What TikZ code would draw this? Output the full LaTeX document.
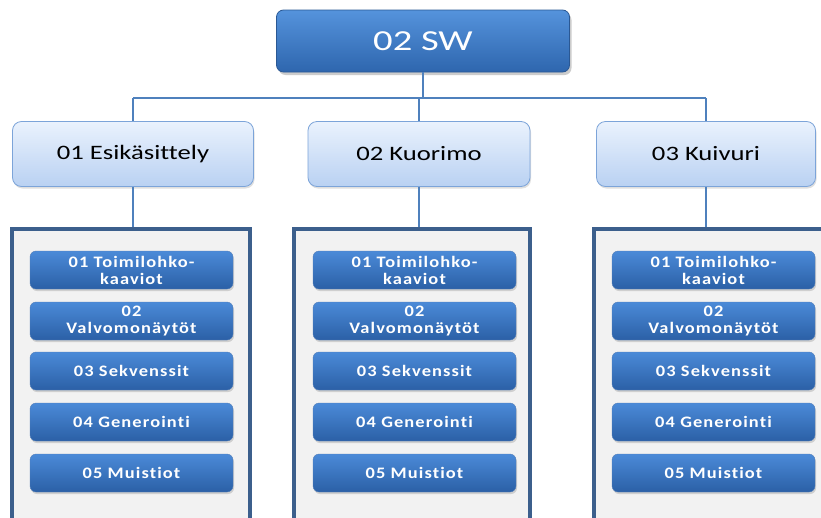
\documentclass[tikz,border=0pt]{standalone}
\usepackage{fontspec}
\setmainfont{Carlito}[Ligatures={NoCommon}]
\newfontfamily\rootfont[FakeStretch=1.33]{Carlito}
\newfontfamily\deptfont[FakeStretch=1.3, Ligatures={NoCommon}]{Carlito}
\newfontfamily\itemfont[LetterSpace=7, FakeStretch=1.15, Ligatures={NoCommon}]{Carlito}
\usepackage{xcolor}
\usetikzlibrary{positioning,shadows,calc}
\definecolor{swtop}{HTML}{5593DC}
\definecolor{swbot}{HTML}{2E66AE}
\definecolor{swline}{HTML}{2A5894}
\definecolor{depttop}{HTML}{EAF2FD}
\definecolor{deptbot}{HTML}{B9D1F2}
\definecolor{deptline}{HTML}{7CA4D9}
\definecolor{itemtop}{HTML}{4B8AD8}
\definecolor{itembot}{HTML}{2B60A6}
\definecolor{contline}{HTML}{3C5F8C}
\definecolor{contfill}{HTML}{F2F2F2}
\definecolor{wire}{HTML}{4F81BD}
\tikzset{
  rootbox/.style={
    rectangle, rounded corners=7pt, draw=swline, thick,
    top color=swtop, bottom color=swbot, text=white,
    minimum width=293pt, minimum height=62pt,
    font=\rootfont\fontsize{29}{32}\selectfont,
    drop shadow={opacity=0.4, shadow xshift=2pt, shadow yshift=-3pt}
  },
  deptbox/.style={
    rectangle, rounded corners=9pt, draw=deptline, thick,
    top color=depttop, bottom color=deptbot,
    minimum width=#1, minimum height=65pt,
    font=\deptfont\fontsize{20.5}{22}\selectfont,
    drop shadow={opacity=0.25, shadow xshift=1pt, shadow yshift=-2pt}
  },
  deptbox/.default=241pt,
  contbox/.style={
    rectangle, draw=contline, fill=contfill, line width=3.5pt,
    minimum width=#1, minimum height=330pt, anchor=north
  },
  contbox/.default=238pt,
  itembox/.style={
    rectangle, rounded corners=6pt, draw=itembot!80,
    top color=itemtop, bottom color=itembot, text=white,
    minimum width=203pt, minimum height=38pt, align=center,
    font=\itemfont\bfseries\fontsize{16}{17}\selectfont,
    drop shadow={opacity=0.3, shadow xshift=1pt, shadow yshift=-2pt}
  },
  wireline/.style={draw=wire, line width=2pt}
}

\begin{document}
\begin{tikzpicture}[x=1pt, y=-1pt]
  \clip (0,0) rectangle (821,517);
  \fill[white] (0,0) rectangle (821,517);
  % containers
  \node[contbox] (cont1) at (131,227) {};
  \node[contbox=236pt] (cont2) at (412,227) {};
  \node[contbox=240pt] (cont3) at (714,227) {};
  % boxes
  \node[rootbox] (sw) at (423,41) {02 SW};
  \node[deptbox] (dept1) at (133,154) {01 Esikäsittely};
  \node[deptbox=222pt] (dept2) at (419,154) {02 Kuorimo};
  \node[deptbox=219pt] (dept3) at (706,154) {03 Kuivuri};
  % wires
  \coordinate (bus) at (423,98);
  \draw[wireline] (sw.south) -- (bus);
  \draw[wireline] (bus -| dept1) -- (bus -| dept3.north);
  \foreach \d in {dept1,dept2,dept3} { \draw[wireline] (bus -| \d) -- (\d.north); }
  \foreach \d/\c in {dept1/cont1,dept2/cont2,dept3/cont3} {
    \draw[wireline] (\d.south) -- (\d.south |- \c.north);
  }
  % items
  \foreach \c/\x in {1/131.5,2/414.5,3/713.5} {
    \node[itembox] (item\c1) at (\x,270) {01 Toimilohko-\\kaaviot};
    \node[itembox] (item\c2) at (\x,321) {02\\Valvomonäytöt};
    \node[itembox] (item\c3) at (\x,371) {03 Sekvenssit};
    \node[itembox] (item\c4) at (\x,422) {04 Generointi};
    \node[itembox] (item\c5) at (\x,473) {05 Muistiot};
  }
\end{tikzpicture}
\end{document}
